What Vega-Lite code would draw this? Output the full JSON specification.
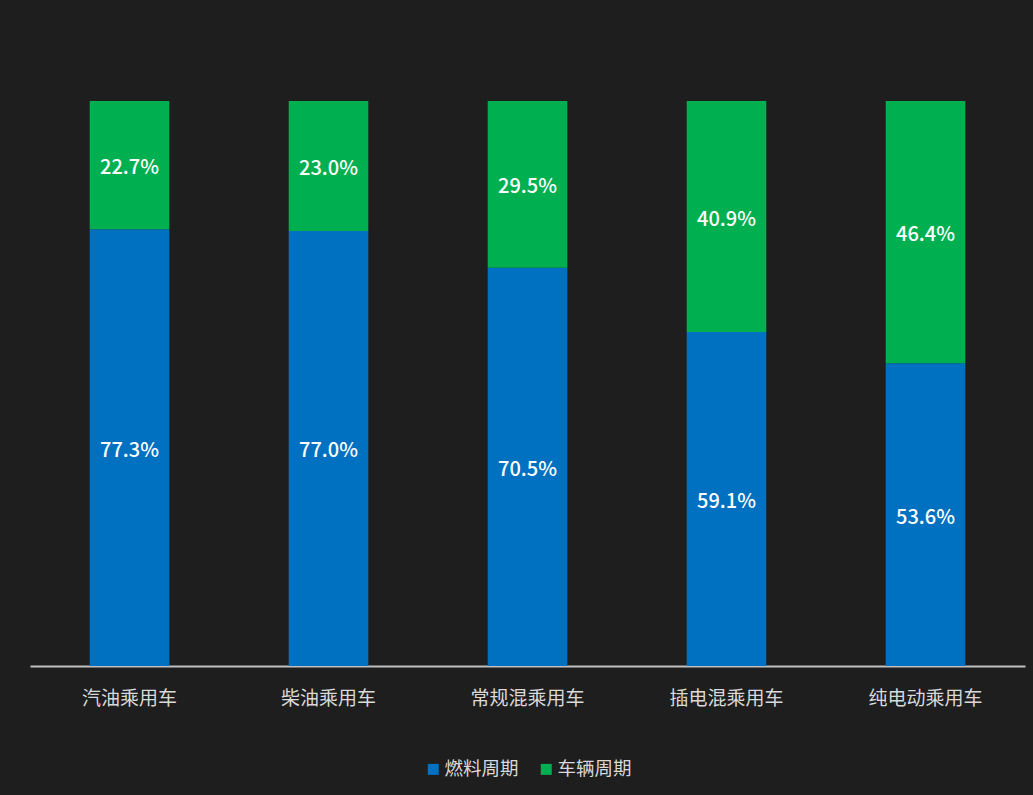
{
  "$schema": "https://vega.github.io/schema/vega-lite/v6.json",
  "width": 995,
  "height": 565,
  "autosize": "none",
  "padding": {"left": 30, "top": 101, "right": 8, "bottom": 129},
  "background": "#1e1e1e",
  "config": {
    "view": {"stroke": null},
    "font": "Noto Sans CJK SC"
  },
  "data": {
    "values": [
      {"car": "汽油乘用车", "series": "燃料周期", "value": 0.773},
      {"car": "汽油乘用车", "series": "车辆周期", "value": 0.227},
      {"car": "柴油乘用车", "series": "燃料周期", "value": 0.770},
      {"car": "柴油乘用车", "series": "车辆周期", "value": 0.230},
      {"car": "常规混乘用车", "series": "燃料周期", "value": 0.705},
      {"car": "常规混乘用车", "series": "车辆周期", "value": 0.295},
      {"car": "插电混乘用车", "series": "燃料周期", "value": 0.591},
      {"car": "插电混乘用车", "series": "车辆周期", "value": 0.409},
      {"car": "纯电动乘用车", "series": "燃料周期", "value": 0.536},
      {"car": "纯电动乘用车", "series": "车辆周期", "value": 0.464}
    ]
  },
  "transform": [
    {"stack": "value", "groupby": ["car"], "sort": [{"field": "series", "order": "ascending"}], "as": ["v0", "v1"]}
  ],
  "encoding": {
    "x": {
      "field": "car",
      "type": "nominal",
      "sort": null,
      "scale": {"paddingInner": 0.6, "paddingOuter": 0.3},
      "axis": {
        "title": null,
        "labelAngle": 0,
        "labelColor": "#d9d9d9",
        "labelFontSize": 19,
        "labelPadding": 23,
        "ticks": false,
        "domainColor": "#bfbfbf",
        "domainWidth": 2,
        "grid": false
      }
    }
  },
  "layer": [
    {
      "mark": {"type": "bar"},
      "encoding": {
        "y": {"field": "v0", "type": "quantitative", "scale": {"domain": [0, 1]}, "axis": null},
        "y2": {"field": "v1"},
        "color": {
          "field": "series",
          "type": "nominal",
          "scale": {"domain": ["燃料周期", "车辆周期"], "range": ["#0070C0", "#00B050"]},
          "legend": {
            "orient": "none",
            "legendX": 394,
            "legendY": 659,
            "direction": "horizontal",
            "title": null,
            "symbolType": "square",
            "symbolSize": 121,
            "symbolStrokeWidth": 0,
            "labelColor": "#d9d9d9",
            "labelFontSize": 18.5,
            "labelOffset": 2,
            "columnPadding": 18
          }
        }
      }
    },
    {
      "transform": [
        {"fold": ["v0", "v1"], "as": ["edge", "pos"]}
      ],
      "mark": {"type": "text", "color": "#ffffff", "fontSize": 20, "fontWeight": 500, "baseline": "middle", "align": "center", "dy": 3},
      "encoding": {
        "y": {"field": "pos", "aggregate": "mean", "type": "quantitative", "stack": null},
        "detail": {"field": "series"},
        "text": {"field": "value", "type": "quantitative", "format": ".1%"}
      }
    }
  ]
}
